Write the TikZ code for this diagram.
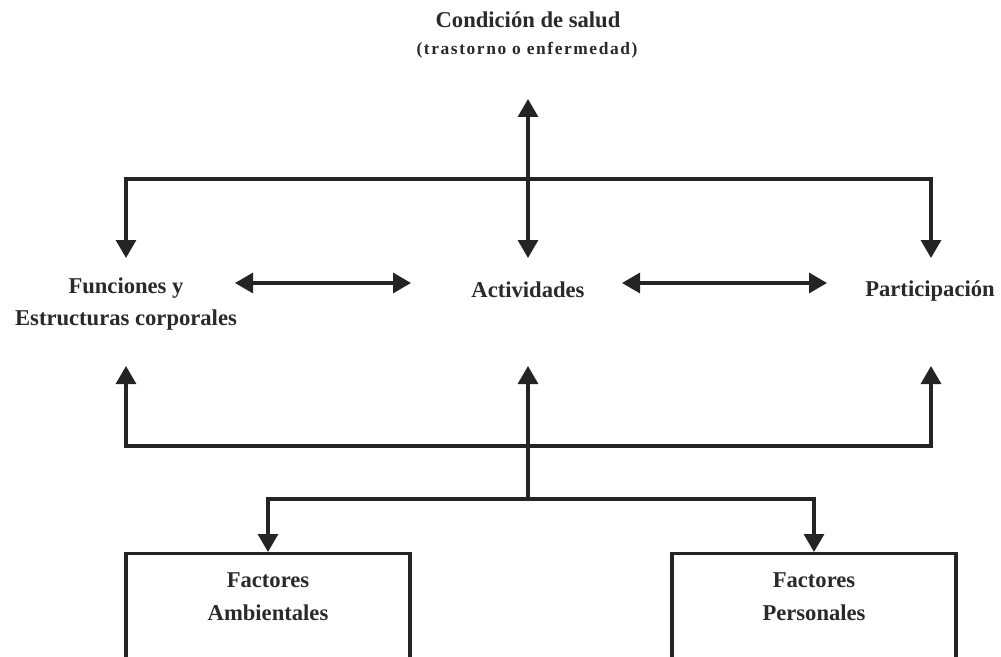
\documentclass[tikz,border=0pt]{standalone}
\usepackage{fontspec}
\setmainfont{Liberation Serif}
\newfontfamily\subfont[LetterSpace=9]{Liberation Serif}
\usetikzlibrary{arrows.meta}
\definecolor{txt}{HTML}{2A2A2A}
\definecolor{lnc}{HTML}{242424}
\begin{document}
\begin{tikzpicture}[x=1bp,y=-1bp,
  lbl/.style={font=\fontsize{22.7}{33}\selectfont\bfseries, text=txt, align=center, inner sep=0pt},
  sublbl/.style={font=\subfont\bfseries\fontsize{17.5}{20}\selectfont, text=txt, align=center, inner sep=0pt},
  ln/.style={line width=3.1bp, draw=lnc},
  tip/.style={-{Triangle[width=20bp,length=18bp]}},
  dbl/.style={{Triangle[width=20bp,length=18bp]}-{Triangle[width=20bp,length=18bp]}},
  boxn/.style={draw=lnc, line width=3.1bp, minimum width=284bp, minimum height=140bp, anchor=north, inner sep=0pt}
]
\useasboundingbox (0,0) rectangle (1001,657);
\clip (0,0) rectangle (1001,657);
\fill[white] (0,0) rectangle (1001,657);

% texts
\node[lbl] (cond) at (528,20) {Condición de salud};
\node[sublbl] (condsub) at (527,50) {(trastorno o enfermedad)};
\node[lbl] (func) at (126,304) {Funciones y\\Estructuras corporales};
\node[lbl] (act) at (528,290) {Actividades};
\node[lbl] (part) at (930,291) {Participación};

% boxes
\node[boxn] (fa) at (268,552) {};
\node[boxn] (fp) at (814,552) {};
\node[lbl] (fat) at (268,597) {Factores\\Ambientales};
\node[lbl] (fpt) at (814,597) {Factores\\Personales};

% junctions and arrow ends
\coordinate (jt) at (528,179);
\coordinate (jb) at (528,446);
\coordinate (jf) at (528,499);
\coordinate (condin) at (528,99);
\coordinate (funcin) at (126,258);
\coordinate (actin) at (528,258);
\coordinate (partin) at (931,258);
\coordinate (funcout) at (126,366);
\coordinate (actout) at (528,366);
\coordinate (partout) at (931,366);
\coordinate (fr) at (235,283);
\coordinate (al) at (411,283);
\coordinate (ar) at (622,283);
\coordinate (pl) at (827,283);

% top
\draw[ln,tip] (jt) -| (funcin);
\draw[ln,tip] (jt) -| (partin);
\draw[ln,dbl] (condin) -- (actin);
% middle
\draw[ln,dbl] (fr) -- (al);
\draw[ln,dbl] (ar) -- (pl);
% bottom
\draw[ln,tip] (jb) -| (funcout);
\draw[ln,tip] (jb) -| (partout);
\draw[ln,tip] (jf) -- (actout);
\draw[ln,tip] (jf) -| (fa.north);
\draw[ln,tip] (jf) -| (fp.north);
\end{tikzpicture}
\end{document}
